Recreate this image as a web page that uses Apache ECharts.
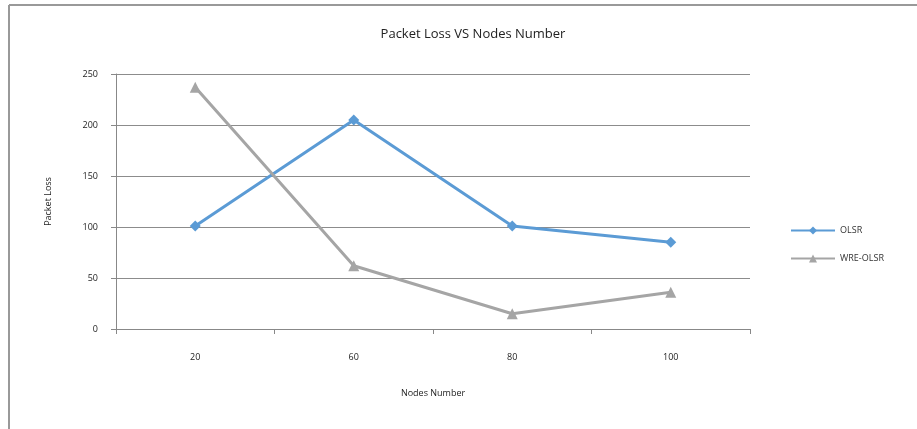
<!DOCTYPE html>
<html>
<head>
    <meta charset="utf-8">
    <title>Packet Loss VS Nodes Number</title>
    <script src="https://cdn.jsdelivr.net/npm/echarts@6/dist/echarts.min.js"></script>
</head>
<body style="margin:0;background:#fff;">
    <div id="myEcharts" style="width: 917px;height:429px;"></div>
    <script type="text/javascript">
        // data
        var nodes = ['20', '60', '80', '100'];
        var olsr = [101, 205, 101, 85];
        var wreOlsr = [237, 62, 15, 36];
        var yTicks = [0, 50, 100, 150, 200, 250];

        var font = '"Open Sans", "Liberation Sans", sans-serif';
        var myChart = echarts.init(document.getElementById('myEcharts'));
        var option = {
            backgroundColor: '#fff',
            animation: false,
            title: {
                text: 'Packet Loss VS Nodes Number',
                left: 468,
                textAlign: 'center',
                top: 23,
                textStyle: { fontFamily: font, fontSize: 13, fontWeight: 'normal', color: '#222' }
            },
            // chart area border (top and left edges visible)
            graphic: [
                { type: 'line', shape: { x1: 9, y1: 5, x2: 917, y2: 5 }, style: { stroke: '#999', lineWidth: 2 } },
                { type: 'line', shape: { x1: 9, y1: 5, x2: 9, y2: 429 }, style: { stroke: '#999', lineWidth: 2 } }
            ],
            legend: {
                orient: 'vertical',
                left: 785,
                top: 221,
                itemGap: 19,
                itemWidth: 44,
                itemHeight: 10,
                textStyle: { fontFamily: font, fontSize: 9, color: '#333' },
                data: ['OLSR', 'WRE-OLSR']
            },
            grid: {
                left: 116,
                right: 167,
                top: 74,
                bottom: 100
            },
            xAxis: {
                type: 'category',
                data: nodes,
                boundaryGap: true,
                name: 'Nodes Number',
                nameLocation: 'middle',
                nameGap: 60,
                nameTextStyle: { fontFamily: font, fontSize: 9, color: '#222' },
                axisLine: { lineStyle: { color: '#888', width: 1 } },
                axisTick: { show: true, length: 5, lineStyle: { color: '#888' } },
                axisLabel: { fontFamily: font, fontSize: 9, color: '#222', margin: 24 }
            },
            yAxis: {
                type: 'value',
                min: yTicks[0],
                max: yTicks[yTicks.length - 1],
                interval: 50,
                name: 'Packet Loss',
                nameLocation: 'middle',
                nameGap: 63,
                nameRotate: 90,
                nameTextStyle: { fontFamily: font, fontSize: 9, color: '#222' },
                axisLine: { show: true, lineStyle: { color: '#888', width: 1 } },
                axisTick: { show: true, length: 5, lineStyle: { color: '#888' } },
                axisLabel: { fontFamily: font, fontSize: 9, color: '#222', margin: 18 },
                splitLine: { show: true, lineStyle: { color: '#8c8c8c', width: 1 } }
            },
            series: [
                {
                    name: 'OLSR',
                    type: 'line',
                    data: olsr,
                    symbol: 'diamond',
                    symbolSize: 11,
                    lineStyle: { color: '#5b9bd5', width: 3 },
                    itemStyle: { color: '#5b9bd5' }
                },
                {
                    name: 'WRE-OLSR',
                    type: 'line',
                    data: wreOlsr,
                    symbol: 'triangle',
                    symbolSize: 11,
                    lineStyle: { color: '#a5a5a5', width: 3 },
                    itemStyle: { color: '#a5a5a5' }
                }
            ]
        };
        myChart.setOption(option);
    </script>
</body>
</html>
